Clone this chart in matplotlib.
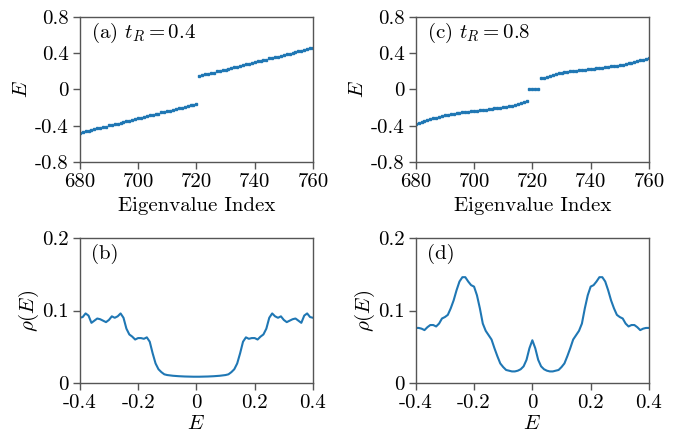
import numpy as np
import matplotlib
matplotlib.use('Agg')
import matplotlib.pyplot as plt
from matplotlib import rcParams
rcParams['font.family'] = ['cmr10', 'DejaVu Serif']
rcParams['mathtext.fontset'] = 'cm'
rcParams['axes.unicode_minus'] = False
rcParams['font.size'] = 15

# eigenvalue index for the two spectra
idx = np.arange(680, 761)

# (a) t_R = 0.4
E_a = [-0.478, -0.474, -0.462, -0.458, -0.446, -0.442, -0.430, -0.426, -0.414, -0.410,
       -0.398, -0.394, -0.382, -0.378, -0.366, -0.362, -0.350, -0.346, -0.334, -0.330,
       -0.318, -0.314, -0.302, -0.298, -0.286, -0.282, -0.270, -0.266, -0.254, -0.250,
       -0.238, -0.234, -0.222, -0.218, -0.206, -0.202, -0.190, -0.186, -0.174, -0.170,
       -0.158,
       0.150, 0.154, 0.166, 0.170, 0.182, 0.186, 0.198, 0.202, 0.214, 0.218,
       0.230, 0.234, 0.246, 0.250, 0.262, 0.266, 0.278, 0.282, 0.294, 0.298,
       0.310, 0.314, 0.326, 0.330, 0.342, 0.346, 0.358, 0.362, 0.374, 0.378,
       0.390, 0.394, 0.406, 0.410, 0.422, 0.426, 0.438, 0.442, 0.454, 0.458]

# (c) t_R = 0.8
E_c = [-0.385, -0.372, -0.360, -0.350, -0.340, -0.330, -0.320, -0.310, -0.302, -0.294,
       -0.287, -0.280, -0.274, -0.268, -0.263, -0.258, -0.254, -0.250, -0.246, -0.242,
       -0.238, -0.234, -0.230, -0.226, -0.222, -0.218, -0.214, -0.210, -0.206, -0.202,
       -0.198, -0.193, -0.188, -0.180, -0.170, -0.158, -0.146, -0.136, -0.128,
       0.0, 0.0, 0.0, 0.0,
       0.122, 0.130, 0.140, 0.150, 0.162, 0.172, 0.178, 0.184, 0.189, 0.194,
       0.198, 0.202, 0.206, 0.210, 0.214, 0.218, 0.222, 0.226, 0.230, 0.234,
       0.238, 0.242, 0.246, 0.250, 0.254, 0.258, 0.263, 0.268, 0.274, 0.280,
       0.287, 0.294, 0.302, 0.310, 0.320, 0.330, 0.340, 0.350]

# energy grid for the densities of states
E_grid = np.round(np.linspace(-0.4, 0.4, 81), 2)

# (b) rho(E), t_R = 0.4
rho_b = [0.090, 0.091, 0.096, 0.093, 0.083, 0.086, 0.089, 0.088, 0.086, 0.084,
         0.087, 0.092, 0.090, 0.092, 0.096, 0.090, 0.075, 0.067, 0.064, 0.060,
         0.062, 0.062, 0.061, 0.063, 0.057, 0.041, 0.027, 0.019, 0.015, 0.012,
         0.011, 0.0105, 0.010, 0.0097, 0.0094, 0.0092, 0.0090, 0.0089, 0.0088, 0.0087,
         0.0087,
         0.0087, 0.0088, 0.0089, 0.0090, 0.0092, 0.0094, 0.0097, 0.010, 0.0105, 0.011,
         0.012, 0.015, 0.019, 0.027, 0.041, 0.057, 0.063, 0.061, 0.062, 0.062,
         0.060, 0.064, 0.067, 0.075, 0.090, 0.096, 0.092, 0.090, 0.092, 0.087,
         0.084, 0.086, 0.088, 0.089, 0.086, 0.083, 0.093, 0.096, 0.091, 0.090]

# (d) rho(E), t_R = 0.8
rho_d = [0.076, 0.076, 0.075, 0.073, 0.077, 0.080, 0.080, 0.078, 0.082, 0.089,
         0.091, 0.094, 0.103, 0.114, 0.128, 0.140, 0.146, 0.146, 0.140, 0.135,
         0.133, 0.121, 0.103, 0.082, 0.072, 0.066, 0.060, 0.048, 0.037, 0.027,
         0.022, 0.018, 0.017, 0.016, 0.016, 0.017, 0.019, 0.023, 0.032, 0.048,
         0.059,
         0.048, 0.032, 0.023, 0.019, 0.017, 0.016, 0.016, 0.017, 0.018, 0.022,
         0.027, 0.037, 0.048, 0.060, 0.066, 0.072, 0.082, 0.103, 0.121, 0.133,
         0.135, 0.140, 0.146, 0.146, 0.140, 0.128, 0.114, 0.103, 0.094, 0.091,
         0.089, 0.082, 0.078, 0.080, 0.080, 0.077, 0.073, 0.075, 0.076, 0.076]

idx_ticks = [680, 700, 720, 740, 760]
E_ticks = [0.8, 0.4, 0, -0.4, -0.8]
E_tick_labels = ['0.8', '0.4', '0', '-0.4', '-0.8']
dos_xticks = [-0.4, -0.2, 0, 0.2, 0.4]
dos_xtick_labels = ['-0.4', '-0.2', '0', '0.2', '0.4']
dos_yticks = [0, 0.1, 0.2]
dos_ytick_labels = ['0', '0.1', '0.2']

blue = '#1f77b4'
grey = '#555555'

fig = plt.figure(figsize=(6.76, 4.4), dpi=100)
w, h = 0.345, 0.3295
ax_a = fig.add_axes([0.118, 0.632, w, h])
ax_c = fig.add_axes([0.615, 0.632, w, h])
ax_b = fig.add_axes([0.118, 0.1295, w, h])
ax_d = fig.add_axes([0.615, 0.1295, w, h])

def style(ax):
    for s in ax.spines.values():
        s.set_color(grey)
        s.set_linewidth(1.0)
    ax.tick_params(direction='out', length=5, width=1, color=grey, pad=3)

for ax, E, lab in [(ax_a, E_a, r'(a) $t_R = 0.4$'), (ax_c, E_c, r'(c) $t_R = 0.8$')]:
    ax.plot(idx, E, 's', ms=1.6, color=blue, mec=blue)
    ax.set_xlim(680, 760)
    ax.set_ylim(-0.8, 0.8)
    ax.set_xticks(idx_ticks)
    ax.set_yticks(E_ticks)
    ax.set_yticklabels(E_tick_labels)
    ax.set_xlabel('Eigenvalue Index')
    ax.set_ylabel(r'$E$', labelpad=3)
    ax.text(0.05, 0.89, lab, transform=ax.transAxes, va='center')
    style(ax)

for ax, rho, lab in [(ax_b, rho_b, '(b)'), (ax_d, rho_d, '(d)')]:
    ax.plot(E_grid, rho, '-', lw=1.5, color=blue)
    ax.set_xlim(-0.4, 0.4)
    ax.set_ylim(0, 0.2)
    ax.set_xticks(dos_xticks)
    ax.set_xticklabels(dos_xtick_labels)
    ax.set_yticks(dos_yticks)
    ax.set_yticklabels(dos_ytick_labels)
    ax.set_xlabel(r'$E$', labelpad=2)
    ax.set_ylabel(r'$\rho(E)$', labelpad=1)
    ax.text(0.05, 0.89, lab, transform=ax.transAxes, va='center')
    style(ax)

fig.savefig('out.png', dpi=100)
